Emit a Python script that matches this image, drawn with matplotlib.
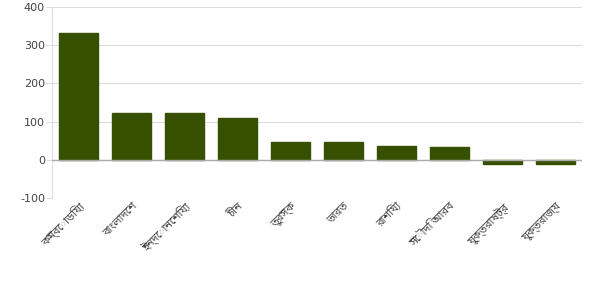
import matplotlib
matplotlib.use("Agg")
import matplotlib.pyplot as plt

categories = ["কম্বোডিয়া", "বাংলাদেশ", "ইন্দোনেশিয়া", "চীন", "তুরস্ক",
              "ভারত", "রাশিয়া", "সৌদি আরব", "যুক্তরাষ্ট্র", "যুক্তরাজ্য"]
values = [331, 122, 122, 109, 46, 46, 36, 33, -12, -12]
yticks = [-100, 0, 100, 200, 300, 400]

plt.rcParams['font.family'] = ['DejaVu Sans']
bn_family = ['Noto Sans Bengali', 'Hind Siliguri', 'DejaVu Sans']

fig = plt.figure(figsize=(5.92, 2.96), dpi=100)
ax = fig.add_axes([52/592, 1 - 198/296, (582 - 52)/592, (198 - 7)/296])

x = list(range(len(categories)))
ax.bar(x, values, width=0.72, color="#375000", edgecolor="#375000", zorder=3)

ax.set_xlim(-0.5, len(categories) - 0.5)
ax.set_ylim(-100, 400)
ax.set_yticks(yticks)
ax.set_yticklabels([str(t) for t in yticks], fontsize=8, color="#444444")
ax.grid(axis="y", color="#dddddd", linewidth=0.8, zorder=0)
ax.axhline(0, color="#aaaaaa", linewidth=1, zorder=4)

ax.set_xticks(x)
ax.set_xticklabels(categories, rotation=45, ha="right", rotation_mode="anchor",
                   fontsize=8, color="#444444", family=bn_family)
ax.tick_params(axis="x", length=0, pad=2)
ax.tick_params(axis="y", length=4, color="#dddddd", pad=1)

for side in ["top", "right", "bottom"]:
    ax.spines[side].set_visible(False)
ax.spines["left"].set_color("#dddddd")

fig.savefig("out.png", dpi=100)
